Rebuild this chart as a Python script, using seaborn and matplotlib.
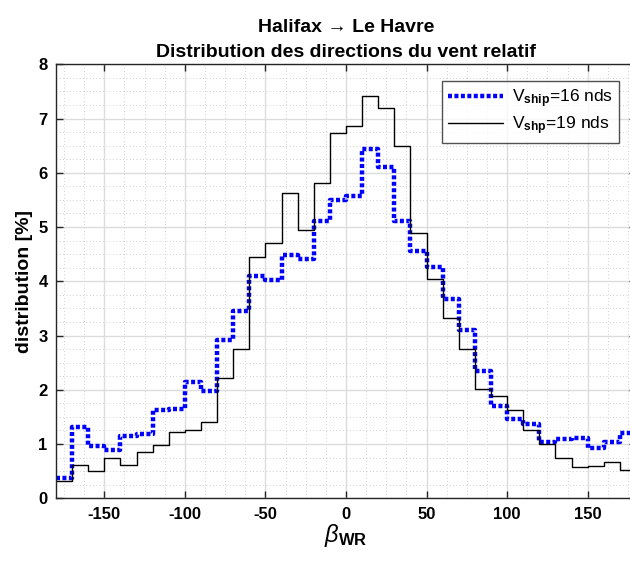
import numpy as np
import pandas as pd
import seaborn as sns
import matplotlib.pyplot as plt
from matplotlib.ticker import MultipleLocator

# Directions du vent relatif : classes de 10 degres, de -180 a 180
bin_starts = list(range(-180, 180, 10))

# distribution [%] pour V_ship = 16 nds (pointille bleu)
dist_16 = [0.37, 1.32, 0.97, 0.89, 1.15, 1.18, 1.63, 1.64, 2.15, 1.98,
           2.92, 3.45, 4.10, 4.03, 4.48, 4.42, 5.11, 5.49, 5.57, 6.43,
           6.11, 5.11, 4.55, 4.27, 3.68, 3.10, 2.34, 1.70, 1.47, 1.37,
           1.04, 1.09, 1.12, 0.92, 1.04, 1.20]

# distribution [%] pour V_ship = 19 nds (trait noir)
dist_19 = [0.31, 0.61, 0.51, 0.74, 0.61, 0.86, 0.99, 1.22, 1.25, 1.41,
           2.21, 2.75, 4.45, 4.71, 5.63, 4.94, 5.82, 6.73, 6.87, 7.42,
           7.19, 6.50, 4.89, 4.04, 3.33, 2.76, 2.01, 1.88, 1.62, 1.25,
           1.00, 0.74, 0.57, 0.59, 0.66, 0.53]

legend_labels = ['V$_{\\mathbf{ship}}$=16 nds', 'V$_{\\mathbf{shp}}$=19 nds']

# stairs : on repete la derniere valeur pour fermer la derniere classe
edges = bin_starts + [180]
df16 = pd.DataFrame({'beta': edges, 'dist': dist_16 + [dist_16[-1]]})
df19 = pd.DataFrame({'beta': edges, 'dist': dist_19 + [dist_19[-1]]})

sns.set_theme(style="white")
plt.rcParams['font.family'] = ['Liberation Sans', 'DejaVu Sans']
plt.rcParams['text.color'] = 'black'
plt.rcParams['axes.labelcolor'] = 'black'
plt.rcParams['axes.unicode_minus'] = False
plt.rcParams['mathtext.fontset'] = 'custom'
plt.rcParams['mathtext.rm'] = 'Liberation Sans'
plt.rcParams['mathtext.it'] = 'Liberation Sans:italic'
plt.rcParams['mathtext.bf'] = 'Liberation Sans:bold'

fig = plt.figure(figsize=(6.3, 5.63), dpi=100)
ax = fig.add_axes([56 / 630, 64.7 / 563, 580 / 630, 434 / 563])

sns.lineplot(data=df16, x='beta', y='dist', ax=ax, color='#0000ff', lw=3.2,
             linestyle=(0, (0.9, 0.55)), drawstyle='steps-post',
             label=legend_labels[0], estimator=None)
sns.lineplot(data=df19, x='beta', y='dist', ax=ax, color='black', lw=1.0,
             drawstyle='steps-post', label=legend_labels[1], estimator=None)

ax.set_xlim(-180, 180)
ax.set_ylim(0, 8)
ax.set_xticks([-150, -100, -50, 0, 50, 100, 150])
ax.set_yticks(range(0, 9))
ax.xaxis.set_minor_locator(MultipleLocator(12.5))
ax.yaxis.set_minor_locator(MultipleLocator(0.25))

ax.grid(which='major', color='#dcdcdc', lw=1.0, ls='-')
ax.grid(which='minor', color='#c0c0c0', lw=0.6, ls=(0, (1, 3)))
ax.set_axisbelow(True)

ax.tick_params(which='major', direction='in', length=5, width=1,
               top=True, right=True, bottom=True, left=True,
               labelsize=12, colors='#262626', labelcolor='black', pad=6)
ax.tick_params(which='minor', length=0)
for lab in ax.get_xticklabels() + ax.get_yticklabels():
    lab.set_fontweight('bold')
for sp in ax.spines.values():
    sp.set_color('#262626')
    sp.set_linewidth(1.0)

ax.set_xlabel('$\\beta_{\\mathbf{WR}}$', fontsize=17, labelpad=0)
ax.set_ylabel('distribution [%]', fontsize=14, fontweight='bold', labelpad=4)
ax.set_title('Halifax \u2192 Le Havre\nDistribution des directions du vent relatif',
             fontsize=14, fontweight='bold', pad=5, linespacing=1.65,
             color='black')

leg = ax.legend(loc='upper right', bbox_to_anchor=(563 / 580, 1 - 17 / 434),
                fontsize=12.5, frameon=True, fancybox=False, handlelength=3.2,
                borderpad=0.35, labelspacing=0.25, handletextpad=0.5,
                borderaxespad=0)
leg.get_frame().set_edgecolor('#262626')
leg.get_frame().set_linewidth(1.0)

plt.savefig('out.png', dpi=100)
